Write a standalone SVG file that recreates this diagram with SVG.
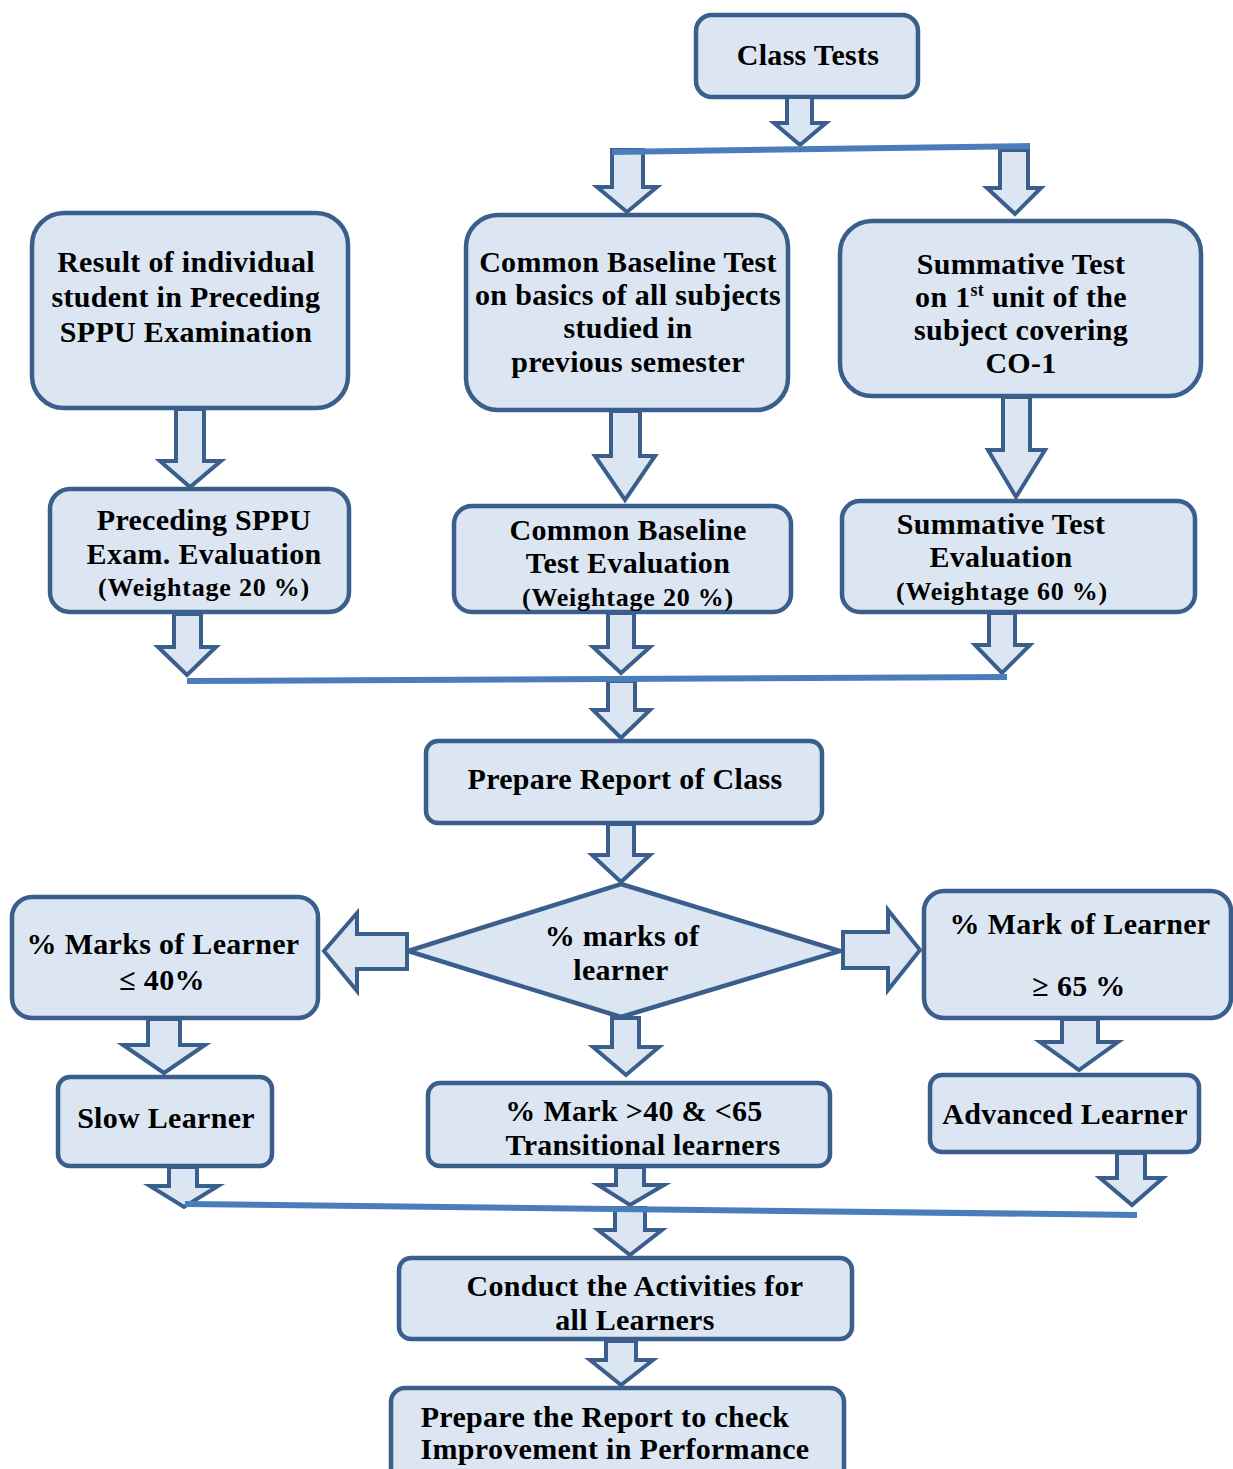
<svg xmlns="http://www.w3.org/2000/svg" width="1233" height="1469" viewBox="0 0 1233 1469">
<style>
.box{fill:#dce6f2;stroke:#3b5f8c;stroke-width:4.5}
.arr{fill:#dce6f2;stroke:#3b5f8c;stroke-width:4;stroke-linejoin:miter}
.ln{stroke:#4a7ebb;stroke-width:6;fill:none}
text{font-family:"Liberation Serif","Times New Roman",serif;font-weight:bold;font-size:30px;letter-spacing:0.3px;fill:#000;text-anchor:middle}
.sm{font-size:26px;letter-spacing:0.8px}
</style>
<rect width="1233" height="1469" fill="#fff"/>
<g id="nodes">
<g id="n-class-tests"><rect class="box" x="696" y="15" width="222" height="82" rx="16"/><text x="808" y="65">Class Tests</text></g>
<g id="n-result"><rect class="box" x="32" y="213" width="316" height="195" rx="32"/>
<text x="186" y="272">Result of individual</text><text x="186" y="307">student in Preceding</text><text x="186" y="342">SPPU Examination</text></g>
<g id="n-cbt"><rect class="box" x="466" y="215" width="322" height="195" rx="32"/>
<text x="628" y="272">Common Baseline Test</text><text x="628" y="305">on basics of all subjects</text><text x="628" y="338">studied in</text><text x="628" y="372">previous semester</text></g>
<g id="n-summ"><rect class="box" x="840" y="221" width="361" height="175" rx="32"/>
<text x="1021" y="274">Summative Test</text><text x="1021" y="307">on 1<tspan font-size="18" dy="-11">st</tspan><tspan dy="11"> unit of the</tspan></text><text x="1021" y="340">subject covering</text><text x="1021" y="373">CO-1</text></g>
<g id="n-prec-eval"><rect class="box" x="50" y="489" width="299" height="123" rx="20"/>
<text x="204" y="530">Preceding SPPU</text><text x="204" y="564">Exam. Evaluation</text><text class="sm" x="204" y="596">(Weightage 20 %)</text></g>
<g id="n-cbt-eval"><rect class="box" x="454" y="506" width="337" height="106" rx="18"/>
<text x="628" y="540">Common Baseline</text><text x="628" y="573">Test Evaluation</text><text class="sm" x="628" y="606">(Weightage 20 %)</text></g>
<g id="n-summ-eval"><rect class="box" x="842" y="501" width="353" height="111" rx="18"/>
<text x="1001" y="534">Summative Test</text><text x="1001" y="567">Evaluation</text><text class="sm" x="1002" y="600">(Weightage 60 %)</text></g>
<g id="n-report"><rect class="box" x="426" y="741" width="396" height="82" rx="12"/><text x="625" y="789">Prepare Report of Class</text></g>
<g id="n-decision"><polygon class="box" points="621,884 840,951 621,1017 408,951"/>
<text x="622" y="946">% marks of</text><text x="621" y="980">learner</text></g>
<g id="n-low"><rect class="box" x="12" y="897" width="306" height="121" rx="20"/>
<text x="163" y="954">% Marks of Learner</text><text x="162" y="990">≤ 40%</text></g>
<g id="n-high"><rect class="box" x="924" y="891" width="307" height="127" rx="20"/>
<text x="1080" y="934">% Mark of Learner</text><text x="1079" y="996">≥ 65 %</text></g>
<g id="n-slow"><rect class="box" x="58" y="1077" width="214" height="89" rx="12"/><text x="166" y="1128">Slow Learner</text></g>
<g id="n-trans"><rect class="box" x="428" y="1083" width="402" height="83" rx="12"/>
<text x="634" y="1121">% Mark &gt;40 &amp; &lt;65</text><text x="643" y="1155">Transitional learners</text></g>
<g id="n-adv"><rect class="box" x="930" y="1075" width="269" height="77" rx="12"/><text x="1065" y="1124">Advanced Learner</text></g>
<g id="n-conduct"><rect class="box" x="399" y="1258" width="453" height="81" rx="12"/>
<text x="635" y="1296">Conduct the Activities for</text><text x="635" y="1330">all Learners</text></g>
<g id="n-final"><rect class="box" x="391" y="1388" width="453" height="95" rx="14"/>
<text x="605" y="1427">Prepare the Report to check</text><text x="615" y="1459">Improvement in Performance</text></g>
</g>
<g id="connectors">
<path class="arr" d="M787 97H812V123H826L800 145L774 123H787Z"/>
<path class="arr" d="M612 150H643V187H657L627 212L597 187H612Z"/>
<path class="arr" d="M1000 150H1028V188H1041L1015 214L987 188H1000Z"/>
<path class="arr" d="M176 409H204V461H221L190 487L160 461H176Z"/>
<path class="arr" d="M174 614H201V647H216L187 675L158 647H174Z"/>
<path class="arr" d="M611 411H640V456H655L625 500L595 456H611Z"/>
<path class="arr" d="M608 613H634V647H650L621 673L593 647H608Z"/>
<path class="arr" d="M1003 397H1030V450H1045L1016 497L988 450H1003Z"/>
<path class="arr" d="M989 613H1015V645H1030L1002 673L975 645H989Z"/>
<path class="arr" d="M608 681H635V710H650L621 738L593 710H608Z"/>
<path class="arr" d="M608 824H634V855H650L621 882L592 855H608Z"/>
<path class="arr" d="M407 934V969H357V991L324 951L357 913V934Z"/>
<path class="arr" d="M843 932V968H888V990L920 950L888 910V932Z"/>
<path class="arr" d="M612 1018H639V1047H659L626 1075L593 1047H612Z"/>
<path class="arr" d="M148 1019H180V1045H205L164 1073L123 1045H148Z"/>
<path class="arr" d="M1062 1019H1098V1042H1118L1079 1070L1040 1042H1062Z"/>
<path class="arr" d="M169 1167H197V1186H218L184 1207L150 1186H169Z"/>
<path class="arr" d="M616 1167H644V1185H664L630 1205L598 1185H616Z"/>
<path class="arr" d="M1117 1153H1145V1178H1163L1132 1205L1100 1178H1117Z"/>
<path class="arr" d="M615 1208H645V1230H662L630 1255L598 1230H615Z"/>
<path class="arr" d="M606 1341H636V1360H653L621 1385L590 1360H606Z"/>
<line class="ln" x1="612" y1="152" x2="1030" y2="146"/>
<line class="ln" x1="187" y1="681" x2="1007" y2="677"/>
<line class="ln" x1="185" y1="1204" x2="1137" y2="1215"/>
</g>
</svg>
